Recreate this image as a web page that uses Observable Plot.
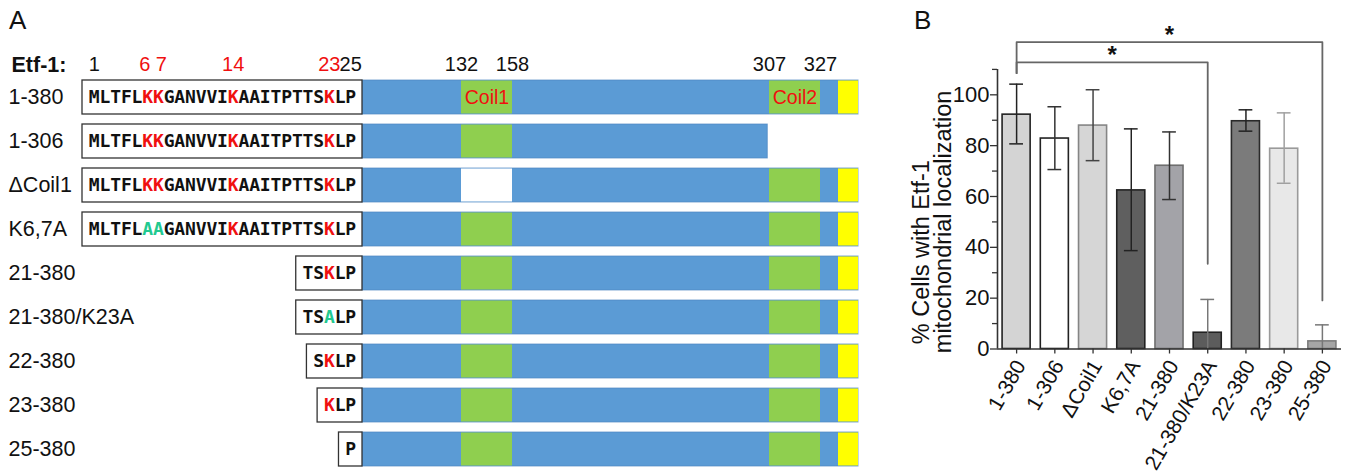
<!DOCTYPE html>
<html>
<head>
<meta charset="utf-8">
<script src="https://cdn.jsdelivr.net/npm/d3@7"></script>
<script src="https://cdn.jsdelivr.net/npm/@observablehq/plot@0.6"></script>
<style>
  body { margin: 0; background: #fff; }
  #fig { position: relative; width: 1354px; height: 475px; background: #fff; font-family: "Liberation Sans", Arial, sans-serif; }
  #fig > svg { position: absolute; top: 0; }
  .panel { position: absolute; font-size: 26px; color: #111; line-height: 1; }
</style>
</head>
<body>
<div id="fig">
  <div class="panel" style="left:9px;top:7px">A</div>
  <div class="panel" style="left:914px;top:7px">B</div>
</div>
<script>
// ---------- Panel A data ----------
const constructs = ["1-380", "1-306", "ΔCoil1", "K6,7A", "21-380", "21-380/K23A", "22-380", "23-380", "25-380"];
const seqStart = [1, 1, 1, 1, 21, 21, 22, 23, 25];
const proteinEnd = [380, 306, 380, 380, 380, 380, 380, 380, 380];
const sequence = "MLTFLKKGANVVIKAAITPTTSKLP";
const lysines = [6, 7, 14, 23];
const mutatedToA = [[], [], [], [6, 7], [], [23], [], [], []];
const coil1Deleted = [false, false, true, false, false, false, false, false, false];
const coil1 = [132, 158];
const coil2 = [307, 327];
const cTerminal = [360, 380];
const posLabels = ["1", "6 7", "14", "23", "25", "132", "158", "307", "327"];
const posAt = [1, 6.5, 14, 23, 25, 132, 158, 307, 327];
const posRed = [false, true, true, true, false, false, false, false, false];

// ---------- Panel B data ----------
const means = [92.2, 82.8, 87.9, 62.4, 72.1, 6.4, 89.6, 78.8, 3.0];
const errHigh = [104.2, 95.3, 102.0, 86.6, 85.4, 19.5, 94.1, 92.9, 9.5];
const errLow = [80.7, 70.6, 74.1, 38.7, 58.8, -6.7, 85.7, 65.2, -3.5];
const barFill = ["#d4d4d4", "#ffffff", "#d6d6d6", "#5f5f5f", "#a3a3a8", "#5c5c5c", "#7b7b7b", "#e8e8e8", "#a6a6a6"];
const barStroke = ["#222", "#222", "#858585", "#222", "#6e6e6e", "#222", "#2a2a2a", "#9a9a9a", "#7d7d7d"];
const errColor = ["#222", "#333", "#444", "#222", "#333", "#777", "#222", "#a0a0a0", "#777"];
const yTicksMajor = [0, 20, 40, 60, 80, 100];
const yTicksMinor = [10, 30, 50, 70, 90, 110];
const sigFrom = [0, 0];
const sigTo = [5, 8];
const sigLevel = [112.8, 120.7];
const sigDrop = [33.5, 19.1];
const sigBase = 108.5;
const sigText = ["*", "*"];
const yTitle = ["% Cells with Etf-1", "mitochondrial localization"];

const FONT = "Liberation Sans, Arial, sans-serif";
const BLUE = "#5b9bd5", GREEN = "#8fcf4f", YELLOW = "#ffff00", RED = "#f01010", TEAL = "#22c990";

// ---------- Build panel A ----------
const PAD = 0.6; // sequence box padding in residue-character units
const seqEnd = sequence.length;
const boxes = constructs.map((name, k) => ({name, x1: seqStart[k] - 1 - PAD, x2: seqEnd + PAD}));
const segs = [];
constructs.forEach((name, k) => {
  const end = proteinEnd[k];
  segs.push({name, x1: seqEnd + PAD, x2: end, fill: BLUE, base: true});
  if (end >= coil1[1]) segs.push({name, x1: coil1[0], x2: coil1[1], fill: coil1Deleted[k] ? "#ffffff" : GREEN});
  if (end >= coil2[1]) segs.push({name, x1: coil2[0], x2: coil2[1], fill: GREEN});
  if (end >= cTerminal[1]) segs.push({name, x1: cTerminal[0], x2: cTerminal[1], fill: YELLOW});
});
const chars = [];
constructs.forEach((name, k) => {
  for (let r = seqStart[k]; r <= seqEnd; r++) {
    let ch = sequence[r - 1], color = "#111";
    if (mutatedToA[k].includes(r)) { ch = "A"; color = TEAL; }
    else if (lysines.includes(r)) color = RED;
    chars.push({name, r, ch, color});
  }
});
const topLabels = posLabels.map((t, i) => ({t, x: posAt[i] <= seqEnd ? posAt[i] - 0.5 : posAt[i], red: posRed[i]}));
const coilLabels = [
  {name: constructs[0], x: (coil1[0] + coil1[1]) / 2, t: "Coil1"},
  {name: constructs[0], x: (coil2[0] + coil2[1]) / 2, t: "Coil2"}
];

const plotA = Plot.plot({
  width: 900, height: 475,
  marginTop: 0, marginBottom: 0, marginLeft: 0, marginRight: 0,
  style: {fontFamily: FONT, fontSize: "20px", color: "#111", background: "transparent"},
  x: {type: "linear", domain: [-PAD, seqEnd + PAD, coil1[0], coil1[1], coil2[0], coil2[1], cTerminal[0], cTerminal[1]],
      range: [82, 362, 461, 512, 769, 820, 838, 858], axis: null},
  y: {type: "band", domain: constructs, range: [68, 477], padding: 0.23, axis: null},
  color: {type: "identity"},
  marks: [
    Plot.barX(segs.filter(d => d.base), {x1: "x1", x2: "x2", y: "name", fill: d => d.fill, stroke: "#4d86c2", strokeWidth: 1, strokeOpacity: 0.7}),
    Plot.barX(segs.filter(d => !d.base), {x1: "x1", x2: "x2", y: "name", fill: d => d.fill, insetTop: 0.5, insetBottom: 0.5}),
    Plot.barX(boxes, {x1: "x1", x2: "x2", y: "name", fill: "#fff", stroke: "#333", strokeWidth: 1.3}),
    Plot.text(chars, {x: d => d.r - 0.5, y: "name", text: "ch", fill: d => d.color,
      fontFamily: "DejaVu Sans Mono", fontWeight: "bold", fontSize: 18}),
    Plot.text(coilLabels, {x: "x", y: "name", text: "t", fill: RED, fontSize: 19.5}),
    Plot.text(constructs, {y: d => d, text: d => d, frameAnchor: "left", dx: 8, textAnchor: "start", fontSize: 21.5}),
    Plot.text(topLabels, {x: "x", text: "t", fill: d => d.red ? RED : "#111", frameAnchor: "top", lineAnchor: "middle", dy: 64.5, fontSize: 20}),
    Plot.text(["Etf-1:"], {frameAnchor: "top-left", lineAnchor: "middle", dx: 11, dy: 64.5, textAnchor: "start", fontWeight: "bold", fontSize: 21.5})
  ]
});
plotA.style.left = "0px";

// ---------- Build panel B ----------
const bdata = constructs.map((name, i) => ({i, name, mean: means[i], hi: errHigh[i], lo: errLow[i],
  fill: barFill[i], stroke: barStroke[i], err: errColor[i]}));
const HALF = 0.367, CAP = 0.18;
const brackets = [];
sigFrom.forEach((f, k) => {
  brackets.push({k, x: f, y: sigBase}, {k, x: f, y: sigLevel[k]}, {k, x: sigTo[k], y: sigLevel[k]}, {k, x: sigTo[k], y: sigDrop[k]});
});
const stars = sigFrom.map((f, k) => ({x: (f + sigTo[k]) / 2, y: sigLevel[k], t: sigText[k]}));

const plotB = Plot.plot({
  width: 454, height: 475,
  marginTop: 68.9, marginBottom: 126.5, marginLeft: 97, marginRight: 13,
  style: {fontFamily: FONT, fontSize: "22px", color: "#111", background: "transparent"},
  x: {type: "linear", domain: [-0.5, 8.5], axis: null},
  y: {type: "linear", domain: [0, 110], axis: null},
  color: {type: "identity"},
  marks: [
    Plot.rectY(bdata, {x1: d => d.i - HALF, x2: d => d.i + HALF, y1: 0, y2: "mean", fill: d => d.fill, stroke: d => d.stroke, strokeWidth: 1.6}),
    Plot.ruleX(bdata, {x: "i", y1: d => Math.max(0, d.lo), y2: "hi", stroke: d => d.err, strokeWidth: 1.5}),
    Plot.ruleY(bdata, {y: "hi", x1: d => d.i - CAP, x2: d => d.i + CAP, stroke: d => d.err, strokeWidth: 1.5}),
    Plot.ruleY(bdata.filter(d => d.lo > 0), {y: "lo", x1: d => d.i - CAP, x2: d => d.i + CAP, stroke: d => d.err, strokeWidth: 1.5}),
    Plot.ruleY([0], {stroke: "#333", strokeWidth: 1.6}),
    Plot.ruleX([-0.5], {y1: 0, y2: 110, stroke: "#333", strokeWidth: 1.6}),
    Plot.axisY({ticks: yTicksMinor, tickSize: 5, tickFormat: () => "", label: null, stroke: "#333", strokeWidth: 1.3}),
    Plot.axisY({ticks: yTicksMajor, tickSize: 7, tickFormat: () => "", label: null, stroke: "#333", strokeWidth: 1.3}),
    Plot.text(yTicksMajor, {y: d => d, text: d => String(d), frameAnchor: "left", textAnchor: "end", lineAnchor: "middle", dx: -8, fontSize: 22}),
    Plot.axisX({ticks: d3.range(constructs.length), tickSize: 5, tickFormat: () => "", label: null, stroke: "#333", strokeWidth: 1.3}),
    Plot.text(bdata, {x: "i", text: "name", frameAnchor: "bottom", rotate: -60, textAnchor: "end", lineAnchor: "middle", dx: 4, dy: 13, fontSize: 21}),
    Plot.line(brackets, {x: "x", y: "y", z: "k", stroke: "#666", strokeWidth: 1.8, curve: "linear"}),
    Plot.text(stars, {x: "x", y: "y", text: "t", dy: -7, fontSize: 24, fontWeight: "bold"}),
    Plot.text([yTitle[0]], {frameAnchor: "left", rotate: -90, textAnchor: "start", lineAnchor: "middle", dx: -76, dy: 135, fontSize: 23.5}),
    Plot.text([yTitle[1]], {frameAnchor: "left", rotate: -90, textAnchor: "start", lineAnchor: "middle", dx: -54, dy: 144, fontSize: 23.5})
  ]
});
plotB.style.left = "900px";

const fig = document.getElementById("fig");
fig.appendChild(plotA);
fig.appendChild(plotB);
</script>
</body>
</html>
